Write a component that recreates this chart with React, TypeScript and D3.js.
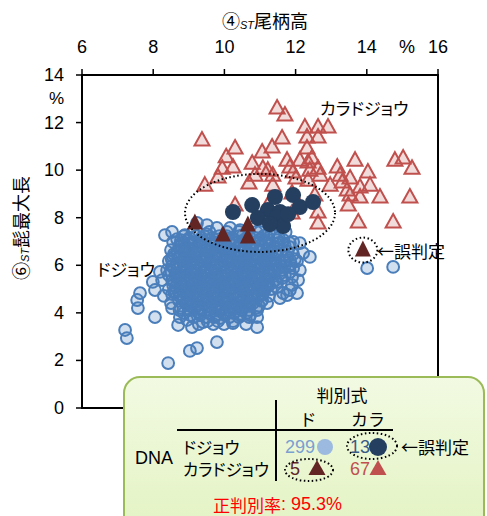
import React from 'react';
import * as d3 from 'd3';

const xTicks = [6, 8, 10, 12, 14, 16];
const yTicks = [0, 2, 4, 6, 8, 10, 12, 14];

// カラドジョウ (correctly judged) – red triangles
const karaPoints: [number, number][] = [
  [9.37, 11.27], [10.3, 10.93], [10.05, 10.56], [9.94, 10.08], [10.24, 10.13], [9.82, 9.71],
  [9.45, 9.37], [10.3, 8.53], [10.78, 10.29], [11.08, 10.08], [11.22, 10.0], [10.86, 9.79],
  [10.69, 9.46], [11.36, 9.79], [11.36, 9.37], [11.34, 10.97], [11.62, 11.35], [11.48, 12.61],
  [11.7, 12.32], [11.76, 10.42], [11.84, 10.13], [11.93, 9.92], [11.22, 8.53], [11.9, 8.2],
  [12.26, 11.81], [12.63, 11.81], [12.91, 11.81], [12.32, 11.39], [12.63, 11.39], [12.32, 10.93],
  [12.46, 10.51], [12.35, 10.34], [12.4, 10.0], [12.63, 10.08], [12.69, 9.79], [12.35, 9.58],
  [12.97, 9.37], [13.17, 10.13], [13.31, 9.5], [13.53, 9.67], [13.45, 9.16], [13.53, 8.95],
  [13.81, 9.29], [14.09, 9.37], [13.81, 8.87], [14.37, 8.87], [15.21, 8.87], [13.67, 10.42],
  [14.03, 9.92], [14.79, 10.42], [15.02, 10.51], [15.27, 10.08], [12.63, 8.24], [13.48, 8.53],
  [13.76, 7.82], [14.74, 7.82], [12.63, 7.78], [11.9, 9.04], [12.12, 10.42], [12.01, 9.67],
  [11.06, 10.76], [12.54, 8.95], [13.25, 9.79],
];

// カラドジョウ misjudged – dark triangles
const karaMisjudged: [number, number][] = [
  [9.17, 7.78], [9.96, 7.27], [10.66, 7.69], [10.66, 7.19], [13.89, 6.64],
];

// ドジョウ misjudged – navy circles
const dojouMisjudged: [number, number][] = [
  [10.24, 8.24], [10.78, 8.53], [11.42, 8.87], [11.93, 8.95], [12.12, 8.45], [12.49, 8.66],
  [11.22, 8.32], [11.56, 8.24], [10.94, 7.99], [11.48, 8.03], [11.65, 7.65], [11.28, 7.73],
  [11.79, 8.15],
];

// ドジョウ (correctly judged) – scattered outer points
const dojouOuter: [number, number][] = [
  [8.33, 7.27], [8.53, 7.4], [8.56, 6.98], [7.21, 3.28], [7.26, 2.94], [8.42, 1.89],
  [9.03, 2.4], [9.23, 2.52], [9.79, 2.77], [7.63, 4.83], [7.55, 4.54], [7.57, 4.2],
  [8.05, 4.96], [7.99, 5.3], [8.05, 3.82], [8.19, 5.72], [8.39, 5.8], [8.56, 6.35],
  [8.25, 5.38], [8.7, 3.49], [8.95, 3.7], [9.09, 3.4], [10.24, 3.57], [9.4, 3.61],
  [9.88, 3.78], [10.92, 3.4], [10.92, 3.82], [11.08, 4.83], [11.06, 4.54], [11.48, 5.09],
  [11.76, 4.75], [12.07, 5.38], [11.9, 5.17], [8.75, 3.82], [8.53, 4.2], [12.4, 6.35],
  [11.93, 6.98], [14.01, 5.88], [14.74, 5.93], [11.9, 5.51], [11.84, 4.96], [11.65, 4.83],
  [12.04, 4.83], [11.56, 4.62], [11.84, 5.72], [11.84, 6.22], [12.12, 5.8], [10.92, 4.12],
  [11.0, 5.09], [11.48, 7.06], [11.84, 6.93], [12.12, 6.93], [12.21, 6.51], [9.51, 7.69],
  [9.79, 7.57], [9.23, 7.78], [10.44, 7.48], [11.0, 7.4], [10.16, 7.57], [8.89, 7.27],
  [8.75, 6.85],
];

// ドジョウ dense core, read row by row: [y, x values]
const dojouCoreRows: [number, number[]][] = [
  [7.4, [9.12, 9.58, 10.07, 10.41, 10.9, 11.25, 11.72]],
  [7.23, [8.86, 9.21, 9.43, 9.86, 10.06, 10.42, 10.69, 11.1, 11.39]],
  [7.15, [9.02, 9.36, 9.66, 10.01, 10.22, 10.63, 10.87, 11.24, 11.53]],
  [7.06, [8.78, 9.0, 9.34, 9.61, 9.97, 10.18, 10.55, 10.98, 11.25, 11.66]],
  [6.94, [8.81, 9.15, 9.37, 9.77, 9.99, 10.34, 10.61, 10.83, 11.17, 11.53]],
  [6.85, [8.76, 9.08, 9.31, 9.66, 9.87, 10.23, 10.42, 10.79, 11.03, 11.27, 11.69]],
  [6.77, [8.73, 8.94, 9.29, 9.51, 9.86, 10.07, 10.41, 10.69, 11.09, 11.39, 11.82]],
  [6.64, [8.5, 8.87, 9.09, 9.44, 9.64, 9.99, 10.2, 10.55, 10.77, 11.19, 11.6]],
  [6.56, [8.68, 8.92, 9.28, 9.52, 9.88, 10.12, 10.43, 10.67, 11.03, 11.32, 11.78]],
  [6.47, [8.58, 8.93, 9.14, 9.48, 9.7, 10.05, 10.27, 10.61, 10.83, 11.17, 11.48, 11.93]],
  [6.35, [8.73, 8.95, 9.3, 9.5, 9.85, 10.06, 10.41, 10.63, 10.97, 11.25, 11.76]],
  [6.26, [8.52, 8.88, 9.11, 9.45, 9.67, 10.04, 10.24, 10.58, 10.82, 11.18, 11.42, 11.98]],
  [6.18, [8.44, 8.84, 9.05, 9.4, 9.61, 9.96, 10.18, 10.52, 10.75, 11.09, 11.31, 11.7, 12.04]],
  [6.05, [8.67, 9.02, 9.23, 9.58, 9.79, 10.14, 10.35, 10.7, 10.91, 11.2, 11.45, 11.87]],
  [5.97, [8.53, 8.77, 9.13, 9.37, 9.72, 9.92, 10.28, 10.49, 10.84, 11.07, 11.43, 11.69]],
  [5.88, [8.58, 8.95, 9.17, 9.52, 9.73, 10.08, 10.3, 10.65, 10.86, 11.25, 11.53, 11.93]],
  [5.76, [8.5, 8.84, 9.06, 9.41, 9.62, 9.97, 10.18, 10.53, 10.75, 11.11, 11.39]],
  [5.67, [8.63, 8.87, 9.22, 9.42, 9.79, 10.01, 10.38, 10.62, 10.98, 11.22, 11.58]],
  [5.59, [8.44, 8.79, 9.0, 9.35, 9.57, 9.92, 10.13, 10.48, 10.69, 11.04, 11.31, 11.7]],
  [5.46, [8.67, 8.89, 9.24, 9.45, 9.8, 10.01, 10.37, 10.58, 10.93, 11.19, 11.62]],
  [5.38, [8.53, 8.75, 9.09, 9.32, 9.66, 9.87, 10.24, 10.44, 10.79, 11.02, 11.43]],
  [5.3, [8.58, 8.93, 9.14, 9.49, 9.71, 10.06, 10.27, 10.62, 10.83, 11.21, 11.48]],
  [5.17, [8.56, 8.78, 9.13, 9.34, 9.69, 9.9, 10.25, 10.46, 10.82, 11.25]],
  [5.08, [8.63, 8.87, 9.24, 9.47, 9.84, 10.05, 10.4, 10.62, 10.99, 11.17]],
  [5.0, [8.44, 8.79, 9.0, 9.35, 9.57, 9.92, 10.13, 10.48, 10.69, 11.1, 11.31]],
  [4.88, [8.64, 8.86, 9.21, 9.42, 9.78, 9.99, 10.34, 10.55, 10.93]],
  [4.79, [8.53, 8.77, 9.12, 9.35, 9.69, 9.92, 10.26, 10.47, 10.84, 11.07]],
  [4.71, [8.3, 8.74, 8.95, 9.3, 9.51, 9.86, 10.07, 10.42, 10.63, 10.98, 11.25]],
  [4.58, [8.86, 9.21, 9.42, 9.78, 9.99, 10.34, 10.55, 10.82]],
  [4.5, [8.73, 8.97, 9.34, 9.57, 9.92, 10.12, 10.49, 10.67, 11.04]],
  [4.41, [8.5, 8.91, 9.12, 9.47, 9.68, 10.03, 10.24, 10.59, 10.8, 11.2]],
  [4.29, [9.02, 9.23, 9.58, 9.79, 10.14, 10.35, 10.7, 10.97]],
  [4.2, [8.77, 9.16, 9.37, 9.74, 9.95, 10.3, 10.52, 10.89]],
  [4.12, [8.74, 9.0, 9.35, 9.57, 9.92, 10.13, 10.48, 10.69]],
  [3.99, [8.86, 9.3, 9.57, 9.97, 10.27, 10.62]],
  [3.9, [9.04, 9.32, 9.76, 10.02, 10.44, 10.72]],
  [3.82, [9.14, 9.49, 9.71, 10.14, 10.41, 10.7]],
  [3.65, [9.53, 9.82, 10.24]],
  [3.53, [9.28, 9.69, 9.99, 10.61]],
];

// ドジョウ: further overlapping points inside the dense core
const dojouCoreExtra: [number, number][] = [
  [8.67, 7.1], [9.49, 7.31], [9.93, 7.02], [10.52, 7.27], [11.03, 7.12], [11.47, 6.9],
  [8.9, 6.68], [9.21, 6.52], [9.76, 6.71], [10.29, 6.6], [10.9, 6.72], [11.42, 6.58],
  [8.7, 6.3], [9.33, 6.21], [9.87, 6.4], [10.43, 6.13], [10.96, 6.33], [11.58, 6.1],
  [8.88, 5.93], [9.45, 5.8], [9.95, 6.0], [10.5, 5.72], [11.0, 5.91], [11.63, 5.8],
  [8.72, 5.52], [9.27, 5.42], [9.78, 5.6], [10.31, 5.35], [10.83, 5.55], [11.36, 5.28],
  [8.91, 5.12], [9.5, 5.23], [10.02, 4.97], [10.55, 5.14], [11.12, 4.92],
  [8.6, 4.85], [9.2, 4.73], [9.72, 4.62], [10.24, 4.85], [10.75, 4.6],
  [8.95, 4.35], [9.52, 4.25], [10.05, 4.45], [10.62, 4.3], [9.25, 4.05], [9.85, 4.08], [10.45, 3.96],
  [9.06, 6.95], [9.62, 6.83], [10.15, 6.9], [10.66, 6.45], [11.22, 6.42], [9.05, 6.38],
  [9.58, 6.05], [10.22, 5.83], [10.72, 5.98], [11.28, 5.6], [9.08, 5.65], [9.63, 5.48],
  [10.12, 5.18], [10.65, 5.32], [11.15, 5.15], [9.1, 4.98], [9.7, 4.9], [10.38, 4.66],
  [9.05, 4.55], [9.65, 4.4], [10.25, 4.22],
];

const W = 487;
const H = 516;

const latin = '"Liberation Sans", Arial, "Noto Sans CJK JP", sans-serif';
const cjk = '"Noto Sans CJK JP", "Liberation Sans", sans-serif';
const palt: React.CSSProperties = { fontFeatureSettings: '"palt"' };

function tri(cx: number, cy: number, hw: number, up: number, down: number) {
  return `M${cx},${cy - up}L${cx + hw},${cy + down}L${cx - hw},${cy + down}Z`;
}

export default function App() {
  const x = d3.scaleLinear().domain([6, 16]).range([82, 438]);
  const y = d3.scaleLinear().domain([0, 14]).range([408, 75]);

  const dojouCore: [number, number][] = dojouCoreRows.flatMap(([yy, xs]) =>
    xs.map((xx) => [xx, yy] as [number, number])
  );
  const dojou = [...dojouCoreExtra, ...dojouCore, ...dojouOuter];

  const blueStroke = '#4a7ebb';
  const redStroke = '#c0504d';
  const darkRed = '#632523';
  const navy = '#243f60';

  return (
    <svg
      width={W}
      height={H}
      style={{ position: 'absolute', left: 0, top: 0, background: '#fff' }}
      xmlns="http://www.w3.org/2000/svg"
    >
      <defs>
        <linearGradient id="boxGrad" x1="0" y1="0" x2="0" y2="1">
          <stop offset="0" stopColor="#f2fae2" />
          <stop offset="1" stopColor="#e3f3c2" />
        </linearGradient>
      </defs>

      {/* titles */}
      <text x={222} y={20} fontFamily={cjk} fontSize={18} dominantBaseline="central" fill="#000">
        ④
        <tspan fontFamily={latin} fontStyle="italic" fontSize={11} dy={5}>ST</tspan>
        <tspan dy={-5}>尾柄高</tspan>
      </text>
      <text
        transform={`translate(20,228) rotate(-90)`}
        fontFamily={cjk}
        fontSize={18}
        textAnchor="middle"
        dominantBaseline="central"
        fill="#000"
      >
        ⑥
        <tspan fontFamily={latin} fontStyle="italic" fontSize={11} dy={5}>ST</tspan>
        <tspan dy={-5}>髭最大長</tspan>
      </text>

      {/* top axis */}
      {xTicks.map((t) => (
        <g key={'xt' + t}>
          <line x1={x(t)} x2={x(t)} y1={75} y2={69} stroke="#000" strokeWidth={1.5} />
          <text x={x(t)} y={47} fontFamily={latin} fontSize={18} textAnchor="middle" dominantBaseline="central">
            {t}
          </text>
        </g>
      ))}
      <text x={407} y={47} fontFamily={latin} fontSize={18} textAnchor="middle" dominantBaseline="central">%</text>

      {/* left axis */}
      {yTicks.map((t) => (
        <g key={'yt' + t}>
          <line x1={76} x2={82} y1={y(t)} y2={y(t)} stroke="#000" strokeWidth={1.5} />
          <text x={64} y={y(t)} fontFamily={latin} fontSize={18} textAnchor="end" dominantBaseline="central">
            {t}
          </text>
        </g>
      ))}
      <text x={64} y={98} fontFamily={latin} fontSize={17} textAnchor="end" dominantBaseline="central">%</text>

      {/* plot frame */}
      <rect x={82} y={75} width={356} height={333} fill="none" stroke="#000" strokeWidth={2} />

      {/* ドジョウ */}
      {dojou.map(([a, b], i) => (
        <circle key={'d' + i} cx={x(a)} cy={y(b)} r={5.9} fill={blueStroke} fillOpacity={0.25} stroke={blueStroke} strokeWidth={2} />
      ))}

      {/* カラドジョウ */}
      {karaPoints.map(([a, b], i) => (
        <path key={'k' + i} d={tri(x(a), y(b), 7.5, 8, 5.5)} fill={redStroke} fillOpacity={0.2} stroke={redStroke} strokeWidth={2} />
      ))}

      {/* misjudged ドジョウ */}
      {dojouMisjudged.map(([a, b], i) => (
        <circle key={'n' + i} cx={x(a)} cy={y(b)} r={8} fill={navy} />
      ))}

      {/* misjudged カラドジョウ */}
      {karaMisjudged.map(([a, b], i) => (
        <path key={'m' + i} d={tri(x(a), y(b), 8, 9.5, 6.5)} fill={darkRed} />
      ))}

      {/* dotted annotations */}
      <ellipse cx={x(11.0)} cy={y(8.2)} rx={75} ry={39} fill="none" stroke="#000" strokeWidth={2} strokeDasharray="1.5 2.5" />
      <ellipse cx={x(13.89)} cy={y(6.64)} rx={14.5} ry={12.5} fill="none" stroke="#000" strokeWidth={2} strokeDasharray="1.5 2.5" />

      {/* labels */}
      <text x={320} y={107} fontFamily={cjk} fontSize={17} dominantBaseline="central" style={palt}>カラドジョウ</text>
      <text x={155} y={268} fontFamily={cjk} fontSize={17} textAnchor="end" dominantBaseline="central" style={palt}>ドジョウ</text>
      <text x={377} y={250} fontFamily={cjk} fontSize={17} dominantBaseline="central">←誤判定</text>

      {/* inset table */}
      <rect x={124} y={377} width={360} height={160} rx={16} ry={16} fill="url(#boxGrad)" stroke="#9bbb59" strokeWidth={2} />
      <text x={342} y={394} fontFamily={cjk} fontSize={17} textAnchor="middle" dominantBaseline="central">判別式</text>
      <text x={308} y={418} fontFamily={cjk} fontSize={17} textAnchor="middle" dominantBaseline="central">ド</text>
      <text x={368} y={418} fontFamily={cjk} fontSize={17} textAnchor="middle" dominantBaseline="central">カラ</text>
      <line x1={177} x2={393} y1={430} y2={430} stroke="#000" strokeWidth={2} />
      <line x1={276} x2={276} y1={400} y2={481} stroke="#000" strokeWidth={2} />
      <text x={135} y={458} fontFamily={latin} fontSize={18} dominantBaseline="central">DNA</text>
      <text x={183} y={447} fontFamily={cjk} fontSize={16.5} dominantBaseline="central" style={palt}>ドジョウ</text>
      <text x={183} y={469} fontFamily={cjk} fontSize={16.5} dominantBaseline="central" style={palt}>カラドジョウ</text>

      <text x={285} y={447} fontFamily={latin} fontSize={18} dominantBaseline="central" fill="#7a9fd1">299</text>
      <circle cx={325} cy={447} r={8} fill="#9cb9e0" />
      <text x={350} y={447} fontFamily={latin} fontSize={18} dominantBaseline="central" fill="#3b5a85">13</text>
      <circle cx={378} cy={447} r={9} fill={navy} />
      <ellipse cx={372} cy={446} rx={25} ry={13} fill="none" stroke="#000" strokeWidth={2} strokeDasharray="1.5 2.5" />
      <text x={401} y={446} fontFamily={cjk} fontSize={17} dominantBaseline="central">←誤判定</text>

      <text x={290} y={469} fontFamily={latin} fontSize={18} dominantBaseline="central" fill={darkRed}>5</text>
      <path d={tri(317, 469, 8.5, 9, 6)} fill={darkRed} />
      <ellipse cx={309} cy={470} rx={24} ry={11} fill="none" stroke="#000" strokeWidth={2} strokeDasharray="1.5 2.5" />
      <text x={350} y={469} fontFamily={latin} fontSize={18} dominantBaseline="central" fill={redStroke}>67</text>
      <path d={tri(378, 469, 8.5, 9, 6)} fill={redStroke} />

      <text x={213} y={504} fontFamily={cjk} fontSize={17} dominantBaseline="central" fill="#ff0000">
        正判別率
        <tspan fontFamily={latin} fontSize={18}>: 95.3%</tspan>
      </text>
    </svg>
  );
}
